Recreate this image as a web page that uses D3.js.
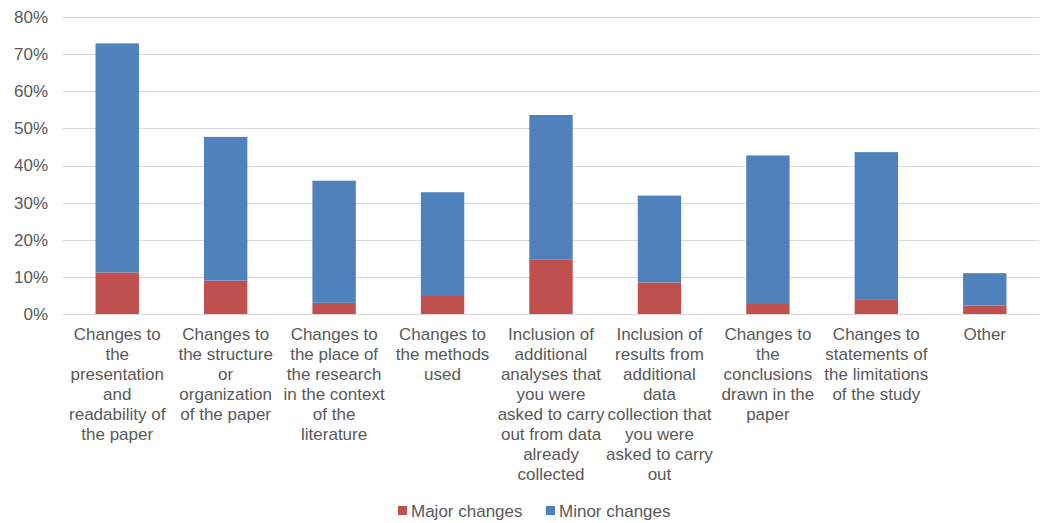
<!DOCTYPE html>
<html>
<head>
<meta charset="utf-8">
<script src="https://cdn.jsdelivr.net/npm/d3@7"></script>
<style>
  html, body { margin: 0; padding: 0; background: #fff; }
  svg { display: block; font-family: "Liberation Sans", Arial, sans-serif; }
</style>
</head>
<body>
<svg id="chart" width="1044" height="523"></svg>
<script>
// Category labels, with their line breaks
const categories = [
  "Changes to\nthe\npresentation\nand\nreadability of\nthe paper",
  "Changes to\nthe structure\nor\norganization\nof the paper",
  "Changes to\nthe place of\nthe research\nin the context\nof the\nliterature",
  "Changes to\nthe methods\nused",
  "Inclusion of\nadditional\nanalyses that\nyou were\nasked to carry\nout from data\nalready\ncollected",
  "Inclusion of\nresults from\nadditional\ndata\ncollection that\nyou were\nasked to carry\nout",
  "Changes to\nthe\nconclusions\ndrawn in the\npaper",
  "Changes to\nstatements of\nthe limitations\nof the study",
  "Other"
];

// Share of respondents (%) per series
const majorChanges = [11.2, 9.0, 3.0, 5.1, 14.6, 8.5, 2.7, 3.8, 2.3];
const minorChanges = [61.7, 38.7, 32.9, 27.7, 39.0, 23.4, 40.0, 39.8, 8.7];

const seriesNames = ["Major changes", "Minor changes"];
const seriesColors = ["#C0504D", "#4F81BD"];

const yTicks = [0, 10, 20, 30, 40, 50, 60, 70, 80];

const FONT = "'Liberation Sans', Arial, sans-serif";
const TEXT_COLOR = "#595959";
const FONT_SIZE = 17;

const svg = d3.select("#chart");
const margin = { left: 63, right: 5, top: 17, bottom: 209 };
const W = 1044, H = 523;
const plotW = W - margin.left - margin.right;
const plotH = H - margin.top - margin.bottom;

const rows = categories.map((c, i) => ({
  cat: c, major: majorChanges[i], minor: minorChanges[i]
}));
const stack = d3.stack().keys(["major", "minor"])(rows);

const x = d3.scaleBand()
  .domain(categories)
  .range([margin.left, margin.left + plotW])
  .paddingInner(0.6)
  .paddingOuter(0.3);

const y = d3.scaleLinear().domain([0, 80]).range([margin.top + plotH, margin.top]);

// Horizontal gridlines
svg.append("g")
  .selectAll("line")
  .data(yTicks)
  .join("line")
  .attr("x1", margin.left)
  .attr("x2", margin.left + plotW)
  .attr("y1", d => Math.round(y(d)) + 0.5)
  .attr("y2", d => Math.round(y(d)) + 0.5)
  .attr("stroke", "#d9d9d9")
  .attr("stroke-width", 1);

// Y axis labels
const yAxis = d3.axisLeft(y).tickValues(yTicks).tickFormat(d => d + "%").tickSize(0).tickPadding(15);
const gy = svg.append("g").attr("transform", `translate(${margin.left},0)`).call(yAxis);
gy.select(".domain").remove();
gy.selectAll("text")
  .attr("font-family", FONT)
  .attr("font-size", FONT_SIZE)
  .attr("fill", TEXT_COLOR);

// Stacked bars
svg.append("g")
  .selectAll("g")
  .data(stack)
  .join("g")
  .attr("fill", (d, i) => seriesColors[i])
  .selectAll("rect")
  .data(d => d)
  .join("rect")
  .attr("x", d => x(d.data.cat))
  .attr("width", x.bandwidth())
  .attr("y", d => y(d[1]))
  .attr("height", d => y(d[0]) - y(d[1]));

// Category labels (multi-line)
const xAxis = d3.axisBottom(x).tickSize(0).tickFormat("");
const gx = svg.append("g").attr("transform", `translate(0,${margin.top + plotH})`).call(xAxis);
gx.select(".domain").remove();
gx.selectAll(".tick").each(function(d) {
  const t = d3.select(this).append("text")
    .attr("text-anchor", "middle")
    .attr("font-family", FONT)
    .attr("font-size", FONT_SIZE)
    .attr("fill", TEXT_COLOR);
  d.split("\n").forEach((line, i) => {
    t.append("tspan").attr("x", 0).attr("y", 26 + i * 20).text(line);
  });
});

// Legend
const legend = svg.append("g").attr("transform", "translate(0,517)");
const legendItems = [
  { name: seriesNames[0], color: seriesColors[0], x: 398 },
  { name: seriesNames[1], color: seriesColors[1], x: 546 }
];
legendItems.forEach(it => {
  legend.append("rect").attr("x", it.x).attr("y", -11).attr("width", 9).attr("height", 9).attr("fill", it.color);
  legend.append("text").attr("x", it.x + 13).attr("y", 0)
    .attr("font-size", FONT_SIZE).attr("fill", TEXT_COLOR)
    .attr("font-family", FONT)
    .text(it.name);
});
</script>
</body>
</html>
